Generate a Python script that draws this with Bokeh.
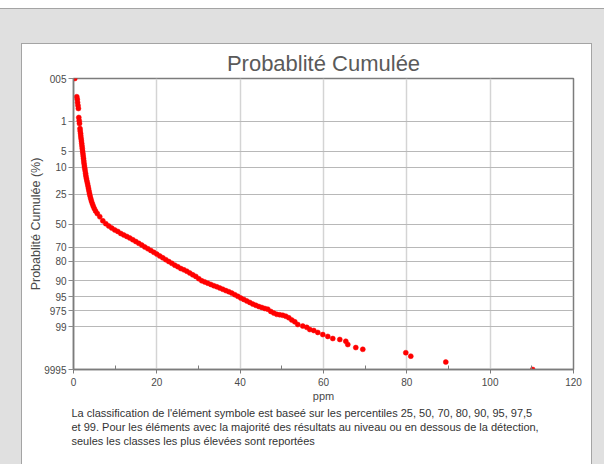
from statistics import NormalDist

from bokeh.embed import file_html
from bokeh.layouts import column, row
from bokeh.models import CustomJSTickFormatter, FixedTicker, Range1d, Spacer, Title
from bokeh.plotting import figure
from bokeh.resources import INLINE

# Sample concentrations (ppm) and their cumulative probability (%)
ppm = [
    0.31, 0.79, 0.91, 0.98, 1.08, 1.18, 1.27, 1.37, 1.44,
    1.56, 1.61, 1.70, 1.75, 1.82, 1.90, 1.97, 2.04, 2.11, 2.18,
    2.26, 2.33, 2.40, 2.47, 2.54, 2.62, 2.71, 2.81, 2.90, 2.98,
    3.10, 3.22, 3.36, 3.48, 3.60, 3.72, 3.84, 3.98, 4.13, 4.30,
    4.51, 4.73, 4.99, 5.30, 5.71,
    6.31, 7.03, 7.75, 8.47, 9.19, 9.91, 10.63, 11.35, 12.07, 12.79,
    13.51, 14.23, 14.95, 15.67, 16.39, 17.11, 17.83, 18.55, 19.27, 19.99,
    20.71, 21.43, 22.15, 22.87, 23.59, 24.31, 25.03, 25.75, 26.47, 27.19,
    27.91, 28.63, 29.35, 30.07, 30.79, 31.51, 32.23, 32.95, 33.67, 34.39,
    35.11, 35.83, 36.55, 37.27, 37.99, 38.71, 39.43, 40.15, 40.87, 41.59,
    42.31, 43.03, 43.75, 44.47, 45.19, 45.91, 46.63, 47.35, 48.07, 48.79,
    49.51, 50.23, 50.95, 51.67, 52.39, 53.11, 53.83,
    55.03, 55.99, 56.71, 57.67, 58.63, 59.83, 61.03, 62.23, 63.91, 65.35,
    65.83, 67.75, 69.43, 79.75, 80.95, 89.35, 110.2,
]
cum_pct = [
    0.05, 0.20, 0.24, 0.30, 0.37, 0.45, 0.80, 0.97, 1.15,
    1.55, 1.77, 2.04, 2.33, 2.67, 3.03, 3.44, 3.90, 4.39, 4.95,
    5.54, 6.22, 6.93, 7.73, 8.58, 9.49, 10.49, 11.53, 12.69, 13.89,
    15.19, 16.56, 18.00, 19.53, 21.10, 22.80, 24.52, 26.35, 28.22, 30.15,
    32.16, 34.20, 36.31, 38.44, 40.62,
    43.5, 47.1, 49.7, 51.8, 53.7, 55.3, 56.7, 58.5, 59.8, 61.1,
    62.4, 63.9, 65.4, 66.9, 68.3, 69.8, 71.2, 72.5, 73.9, 75.2,
    76.5, 77.8, 79.0, 80.2, 81.3, 82.4, 83.3, 84.3, 85.0, 85.7,
    86.6, 87.5, 88.2, 89.2, 90.05, 90.5, 90.95, 91.4, 91.85, 92.2,
    92.6, 93.0, 93.4, 93.7, 94.1, 94.5, 94.9, 95.3, 95.6, 95.9,
    96.2, 96.5, 96.7, 96.9, 97.05, 97.2, 97.3, 97.6, 97.8, 97.95,
    98.0, 98.05, 98.15, 98.3, 98.5, 98.65, 98.85,
    98.95, 99.03, 99.15, 99.20, 99.29, 99.38, 99.45, 99.52, 99.55, 99.60,
    99.68, 99.74, 99.77, 99.82, 99.86, 99.91, 99.95,
]

y_tick_pct = [0.05, 1, 5, 10, 25, 50, 70, 80, 90, 95, 97.5, 99, 99.95]
y_tick_labels = ["005", "1", "5", "10", "25", "50", "70", "80", "90", "95", "975", "99", "9995"]
x_ticks = [0, 20, 40, 60, 80, 100, 120]
x_minor_ticks = [10, 30, 50, 70, 90, 110]

title_text = "Probablité Cumulée"
x_label = "ppm"
y_label = "Probablité Cumulée (%)"
caption_lines = [
    "La classification de l'élément symbole est baseé sur les percentiles 25, 50, 70, 80, 90, 95, 97,5",
    "et 99. Pour les éléments avec la majorité des résultats au niveau ou en dessous de la détection,",
    "seules les classes les plus élevées sont reportées",
]

FONT = "Liberation Sans"
TEXT = "#4a4a4a"
PANEL_GRAY = "#e0e0e0"
EDGE = "#a4a4a4"

normal = NormalDist()


def probit(pct):
    """Normal-probability scale: percent -> standard normal quantile."""
    return normal.inv_cdf(pct / 100.0)


p = figure(
    width=569, height=420,
    output_backend="svg", toolbar_location=None,
    x_range=Range1d(0, 120),
    y_range=Range1d(probit(y_tick_pct[-1]), probit(y_tick_pct[0])),
    min_border_left=51, min_border_right=18, min_border_top=34, min_border_bottom=95,
    border_fill_color="white", background_fill_color="white",
    title=title_text,
)
p.outline_line_color = "#7c7c7c"
p.outline_line_width = 1.5

p.title.align = "center"
p.title.text_font = FONT
p.title.text_font_size = "22px"
p.title.text_font_style = "normal"
p.title.text_color = "#5a5a5a"
p.title.standoff = 6

# x axis
xa = p.xaxis[0]
xa.ticker = FixedTicker(ticks=x_ticks, minor_ticks=x_minor_ticks)
xa.axis_label = x_label
xa.axis_line_color = "#7c7c7c"
xa.axis_line_width = 1.5
xa.major_tick_in = 0
xa.major_tick_out = 4
xa.minor_tick_in = 4
xa.minor_tick_out = 0
xa.major_tick_line_color = "#7c7c7c"
xa.minor_tick_line_color = "#7c7c7c"
xa.major_label_standoff = 4
xa.axis_label_standoff = 1
xa.major_label_text_font = FONT
xa.major_label_text_font_size = "10px"
xa.major_label_text_color = TEXT
xa.axis_label_text_font = FONT
xa.axis_label_text_font_size = "11px"
xa.axis_label_text_font_style = "normal"
xa.axis_label_text_color = TEXT

# y axis on the probability scale
ya = p.yaxis[0]
ya.ticker = FixedTicker(ticks=[probit(v) for v in y_tick_pct])
ya.formatter = CustomJSTickFormatter(
    args=dict(zpos=[probit(v) for v in y_tick_pct], labs=y_tick_labels),
    code="""
        let best = 0, dist = Infinity;
        for (let i = 0; i < zpos.length; i++) {
            const d = Math.abs(zpos[i] - tick);
            if (d < dist) { dist = d; best = i; }
        }
        return labs[best];
    """,
)
ya.axis_label = y_label
ya.axis_line_color = "#7c7c7c"
ya.axis_line_width = 1.5
ya.major_tick_in = 0
ya.major_tick_out = 5
ya.major_tick_line_color = "#8a8a8a"
ya.minor_tick_line_color = None
ya.major_label_standoff = 2
ya.axis_label_standoff = -2
ya.major_label_text_font = FONT
ya.major_label_text_font_size = "10px"
ya.major_label_text_color = TEXT
ya.axis_label_text_font = FONT
ya.axis_label_text_font_size = "12.5px"
ya.axis_label_text_font_style = "normal"
ya.axis_label_text_color = TEXT

p.xgrid.grid_line_color = "#d4d4d4"
p.xgrid.grid_line_width = 1.5
p.ygrid.grid_line_color = "#b8b8b8"
p.ygrid.grid_line_width = 1

p.scatter(ppm, [probit(v) for v in cum_pct], size=5,
          fill_color="#ff0000", line_color="#ff0000", line_width=0.5)

# Explanatory note stacked under the x axis
for line in caption_lines:
    p.add_layout(Title(
        text=line, align="left", offset=-2, standoff=0,
        text_font=FONT, text_font_size="11px", text_font_style="normal",
        text_color="#333333",
    ), "below")


def block(w, h, color):
    return Spacer(width=w, height=h, styles={"background-color": color})


page = column(
    block(604, 8, "#ffffff"),
    block(604, 1, EDGE),
    block(604, 34, PANEL_GRAY),
    row(block(21, 1, PANEL_GRAY), block(571, 1, EDGE), block(12, 1, PANEL_GRAY)),
    row(block(21, 420, PANEL_GRAY), block(1, 420, EDGE), p,
        block(1, 420, EDGE), block(12, 420, PANEL_GRAY)),
)

open("out.html", "w").write(file_html(page, INLINE))
